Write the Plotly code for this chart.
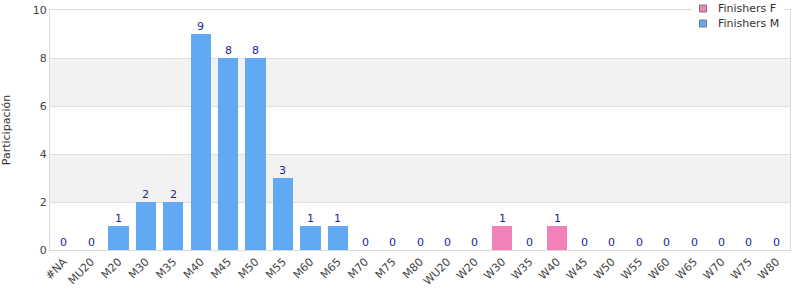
import plotly.graph_objects as go

categories = ["#NA", "MU20", "M20", "M30", "M35", "M40", "M45", "M50", "M55", "M60", "M65",
              "M70", "M75", "M80", "WU20", "W20", "W30", "W35", "W40", "W45", "W50", "W55",
              "W60", "W65", "W70", "W75", "W80"]
finishers_m = [0, 0, 1, 2, 2, 9, 8, 8, 3, 1, 1, 0, 0, 0, 0, 0, 0, 0, 0, 0, 0, 0, 0, 0, 0, 0, 0]
finishers_f = [0, 0, 0, 0, 0, 0, 0, 0, 0, 0, 0, 0, 0, 0, 0, 0, 1, 0, 1, 0, 0, 0, 0, 0, 0, 0, 0]
series_names = ["Finishers F", "Finishers M"]
y_ticks = [0, 2, 4, 6, 8, 10]

totals = [m + f for m, f in zip(finishers_m, finishers_f)]

font = "DejaVu Sans"
pink = "#f081b9"
blue = "#61a9f2"
series_colors = [pink, blue]

W, H = 800, 300
ML, MR, MT, MB = 50, 10, 10, 50
PW, PH = W - ML - MR, H - MT - MB


def px_x(px):
    return (px - ML) / PW


def px_y(py):
    return (H - MB - py) / PH


fig = go.Figure()
fig.add_trace(go.Bar(x=categories, y=finishers_f, name=series_names[0], showlegend=False,
                     marker=dict(color=pink, line=dict(width=0))))
fig.add_trace(go.Bar(x=categories, y=finishers_m, name=series_names[1], showlegend=False,
                     marker=dict(color=blue, line=dict(width=0))))

annotations = []
for c, t in zip(categories, totals):
    annotations.append(dict(x=c, y=t, xref="x", yref="y", text=str(t), showarrow=False,
                            yanchor="bottom", yshift=-1,
                            font=dict(color="#22229a", size=11, family=font)))

shapes = []
for lo in [2, 6]:
    shapes.append(dict(type="rect", xref="paper", yref="y", x0=0, x1=1, y0=lo, y1=lo + 2,
                       fillcolor="#f2f2f2", line=dict(width=0), layer="below"))

# legend box (white background interrupting the frame)
shapes.append(dict(type="rect", xref="paper", yref="paper", x0=px_x(692), x1=px_x(784),
                   y0=px_y(32), y1=px_y(0), fillcolor="white", line=dict(width=0),
                   layer="above"))
for i, (nm, col) in enumerate(zip(series_names, series_colors)):
    cy = 8.5 + 15 * i
    shapes.append(dict(type="rect", xref="paper", yref="paper", x0=px_x(699.5), x1=px_x(706.5),
                       y0=px_y(cy + 3.5), y1=px_y(cy - 3.5), fillcolor=col,
                       line=dict(color="#7a7a7a", width=1), layer="above"))
    annotations.append(dict(x=px_x(716), y=px_y(cy), xref="paper", yref="paper", text=nm,
                            showarrow=False, xanchor="left", yanchor="middle",
                            font=dict(size=11, color="#333333", family=font)))

fig.update_layout(
    width=W, height=H,
    margin=dict(l=ML, r=MR, t=MT, b=MB, autoexpand=False),
    paper_bgcolor="white", plot_bgcolor="white",
    barmode="stack", bargap=0.26,
    font=dict(family=font, size=11, color="#444444"),
    shapes=shapes,
    annotations=annotations,
    showlegend=False,
    xaxis=dict(tickangle=-45, showline=True, linecolor="#d9d9d9", mirror=True,
               showgrid=False, ticks="", automargin=False,
               tickfont=dict(size=11, color="#444444")),
    yaxis=dict(range=[0, 10], tickvals=y_ticks, showline=True, linecolor="#d9d9d9",
               mirror=True, gridcolor="#e0e0e0", zeroline=False, ticks="", automargin=False,
               title=dict(text="Participación", font=dict(size=11, color="#333333"), standoff=20),
               tickfont=dict(size=11, color="#444444")),
)
fig.write_html("out.html")
